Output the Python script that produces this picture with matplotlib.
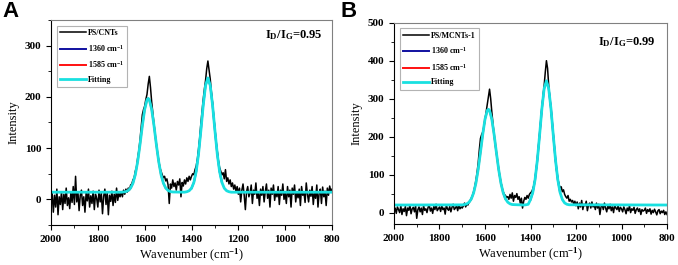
import numpy as np
import matplotlib
matplotlib.use('Agg')
import matplotlib.pyplot as plt

plt.rcParams['font.family'] = 'Liberation Serif'
plt.rcParams['font.weight'] = 'bold'
plt.rcParams['mathtext.fontset'] = 'custom'
plt.rcParams['mathtext.rm'] = 'Liberation Serif:bold'
plt.rcParams['mathtext.it'] = 'Liberation Serif:bold'
plt.rcParams['mathtext.default'] = 'rm'

# raw spectra, sampled every 5 cm-1 from 2000 down to 800
wavenumber = np.arange(2000, 799, -5)

spec_a = [
    -5, 12, -25, 8, -15, 20, -30, 5, -10, 15, -20, 10, -8, 22, -12, 3, -18, 14, -6, 25,
    -10, 45, -5, 15, -22, 8, 18, -12, 5, -25, 12, -3, 20, -15, 7, -8, 16, -20, 10, 2,
    -15, 18, -5, 12, -28, 6, 20, -10, 14, -30, 8, -4, 16, -12, 10, -6, 22, -2, 12, 5,
    15, 5, 18, 10, 20, 14, 22, 18, 28, 30, 38, 42, 55, 62, 80, 95, 115, 140, 165, 175,
    182, 195, 205, 225, 240, 218, 190, 168, 145, 125, 108, 90, 76, 62, 55, 48, 42, 45, 36, 40,
    28, -8, 30, 22, 38, 25, 32, 18, 35, 28, 40, 5, 33, 26, 38, 30, 42, 35, 45, 38,
    45, 50, 48, 58, 65, 78, 98, 120, 148, 172, 195, 215, 232, 255, 270, 252, 235, 210, 188, 160,
    138, 112, 95, 75, 62, 55, 48, 52, 40, 58, 35, 42, 30, 38, 25, 32, 20, 28, 15, 25,
    10, 22, -5, 18, 30, 8, -20, 15, 25, 5, 12, 28, -8, 18, 10, 32, 2, 15, -12, 20,
    8, 25, -5, 15, 30, 2, 18, -15, 22, 10, 28, -2, 15, 5, 25, -10, 18, 8, 30, 0,
    12, -8, 25, 5, 18, -15, 22, 10, 28, -5, 15, 3, 20, -12, 25, 8, 14, -6, 32, 10,
    -5, 18, 6, 25, -10, 15, 2, 28, -15, 12, 20, -8, 24, 5, 16, -12, 22, 8, 26, 15,
    20,
]

spec_b = [
    5, 12, -2, 15, 8, 0, 18, -5, 10, 3, 16, -8, 12, 6, 20, -3, 10, 14, 2, 18,
    -15, 8, 15, 2, 12, -5, 18, 6, 10, 0, 14, 20, 4, 12, -2, 16, 8, 22, 5, 10,
    15, 3, 18, 8, 12, -4, 20, 10, 6, 16, 2, 14, 22, 8, 12, 18, 5, 20, 10, 15,
    12, 18, 25, 15, 22, 20, 28, 30, 38, 45, 55, 68, 85, 105, 130, 165, 195, 205, 212, 225,
    245, 265, 285, 305, 325, 300, 265, 235, 205, 180, 158, 135, 115, 95, 80, 65, 55, 48, 45, 40,
    42, 35, 48, 38, 52, 30, 45, 40, 50, 35, 42, 25, 38, 12, 30, 40, 35, 45, 38, 48,
    52, 55, 62, 72, 90, 112, 140, 172, 205, 240, 275, 305, 335, 370, 400, 380, 335, 300, 275, 240,
    205, 170, 138, 110, 90, 75, 65, 68, 55, 60, 48, 42, 38, 45, 30, 35, 28, 32, 22, 30,
    18, 28, 10, 25, 15, 32, 8, 22, 18, 30, 5, 20, 25, 12, 28, 15, 20, 8, 25, 12,
    22, -5, 15, 20, 8, 25, 12, 2, 18, 10, 22, 5, 15, 0, 20, 12, 8, 18, 3, 14,
    10, 2, 15, 8, -3, 12, 5, 18, 0, 10, 6, 14, -2, 8, 12, 3, 10, -5, 8, 4,
    6, 12, -2, 8, 3, 10, -4, 6, 0, 9, 2, -6, 5, 8, -3, 4, 0, 6, -5, 2,
    -5,
]

# fitted curves
fit_wn = [2000, 1700, 1690, 1680, 1670, 1660, 1650, 1640, 1630, 1620, 1610, 1600,
          1590, 1585, 1580, 1570, 1560, 1550, 1540, 1530, 1520, 1510, 1500, 1490,
          1480, 1430, 1420, 1410, 1400, 1390, 1380, 1370, 1360, 1350, 1340, 1330,
          1320, 1310, 1300, 1290, 1280, 1270, 1260, 1250, 1240, 1230, 800]
fit_a = [14, 14, 14.4, 15.2, 17.3, 22.0, 31.5, 48.0, 73.5, 106.6, 143.4, 175.4,
         194.4, 197, 194.4, 175.4, 143.4, 106.6, 73.5, 48.0, 31.5, 22.0, 17.3, 15.2,
         14.4, 14, 14.9, 16.8, 21.7, 32.9, 54.1, 88.5, 134.2, 183.5, 222.3, 237,
         222.3, 183.5, 134.2, 88.5, 54.1, 32.9, 21.7, 16.8, 14.9, 14, 14]
fit_b = [20, 20.4, 21.2, 23.1, 27.4, 36.2, 52.0, 77.5, 113.7, 158.6, 205.7, 245.8,
         269, 272, 269, 245.8, 205.7, 158.6, 113.7, 77.5, 52.0, 36.2, 27.4, 23.1,
         21.2, 20, 20.6, 21.9, 34.4, 52.9, 86.4, 138.0, 204.1, 273.4, 326.7, 347,
         326.7, 273.4, 204.1, 138.0, 86.4, 52.9, 34.4, 25.5, 21.9, 20.6, 20]

# range over which each single band component was drawn
g_range = (1505, 1670)
d_range = (1265, 1405)

panels = [
    dict(letter='A', spec=spec_a, fit=fit_a, name='PS/CNTs',
         ratio='0.95', ylim=(-50, 350), yticks=[0, 100, 200, 300],
         pos=[0.0752, 0.151, 0.4145, 0.7735], lx=0.003,
         rx=0.968, ry=0.925),
    dict(letter='B', spec=spec_b, fit=fit_b, name='PS/MCNTs-1',
         ratio='0.99', ylim=(-30, 500), yticks=[0, 100, 200, 300, 400, 500],
         pos=[0.5811, 0.1547, 0.4027, 0.7596], lx=0.502,
         rx=0.958, ry=0.905),
]

fig = plt.figure(figsize=(6.78, 2.65), dpi=100)

for p in panels:
    ax = fig.add_axes(p['pos'])
    fw = np.array(fit_wn)
    fv = np.array(p['fit'])
    ax.plot(wavenumber, p['spec'], color='black', lw=1.1, label=p['name'])
    m = (fw >= d_range[0]) & (fw <= d_range[1])
    ax.plot(fw[m], fv[m], color='#1010a0', lw=1.4, label='1360 cm$^{-1}$')
    m = (fw >= g_range[0]) & (fw <= g_range[1])
    ax.plot(fw[m], fv[m], color='#ff1010', lw=1.4, label='1585 cm$^{-1}$')
    ax.plot(fw, fv, color='#19e0e0', lw=2.0, label='Fitting')

    ax.set_xlim(2000, 800)
    ax.set_xticks([2000, 1800, 1600, 1400, 1200, 1000, 800])
    ax.set_xticks([1900, 1700, 1500, 1300, 1100, 900], minor=True)
    ax.set_yticks(p['yticks'])
    ax.set_yticks([t + 50 for t in p['yticks']] + [-50], minor=True)
    ax.set_ylim(*p['ylim'])
    ax.tick_params(which='both', direction='out', labelsize=8, top=False, right=False)
    ax.tick_params(which='major', length=3.5, width=0.8)
    ax.tick_params(which='minor', length=2, width=0.6)
    for s in ('top', 'right'):
        ax.spines[s].set_color('#808080')
    ax.set_xlabel('Wavenumber (cm$^{-1}$)', fontsize=9, labelpad=2)
    ax.set_ylabel('Intensity', fontsize=9, labelpad=4)

    leg = ax.legend(loc='upper left', fontsize=5.8, frameon=True, fancybox=False,
                    borderaxespad=0.7, handlelength=3.2, labelspacing=0.7,
                    borderpad=0.4, handletextpad=0.3)
    leg.get_frame().set_edgecolor('#a0a0a0')
    leg.get_frame().set_linewidth(0.8)

    ax.text(p['rx'], p['ry'], 'I$_\\mathregular{D}$/I$_\\mathregular{G}$=' + p['ratio'],
            transform=ax.transAxes, ha='right', va='center', fontsize=9)
    fig.text(p['lx'], 0.995, p['letter'], ha='left', va='top', fontsize=16,
             family='Liberation Sans', weight='bold')

fig.savefig('out.png', dpi=100)
